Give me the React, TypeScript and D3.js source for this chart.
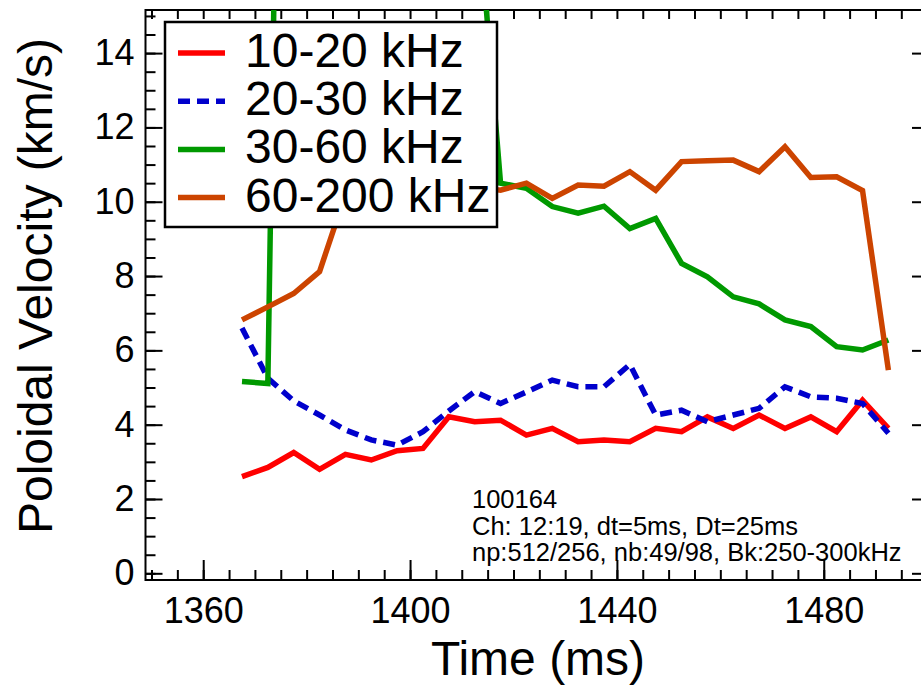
import { useRef, useEffect } from "react";
import * as d3 from "d3";

// time points (ms), one every 5 ms
const times = [
  1367.5, 1372.5, 1377.5, 1382.5, 1387.5, 1392.5, 1397.5, 1402.5, 1407.5, 1412.5,
  1417.5, 1422.5, 1427.5, 1432.5, 1437.5, 1442.5, 1447.5, 1452.5, 1457.5, 1462.5,
  1467.5, 1472.5, 1477.5, 1482.5, 1487.5, 1492.5,
];

// poloidal velocity (km/s) per frequency band
const band10to20 = [
  2.6, 2.85, 3.25, 2.8, 3.2, 3.05, 3.3, 3.36, 4.21, 4.08, 4.12, 3.72, 3.9, 3.54,
  3.59, 3.54, 3.9, 3.81, 4.21, 3.9, 4.26, 3.9, 4.21, 3.81, 4.66, 3.9,
];
const band20to30 = [
  6.6, 5.25, 4.64, 4.26, 3.86, 3.59, 3.45, 3.81, 4.37, 4.89, 4.57, 4.88, 5.2, 5.02,
  5.02, 5.62, 4.26, 4.39, 4.08, 4.26, 4.44, 5.02, 4.75, 4.71, 4.57, 3.77,
];
// points 2..9 run off the top of the plot
const band30to60 = [
  5.16, 5.11, 49, 38, 30, 42, 27, 33, 24, 19, 10.5, 10.36, 9.87, 9.69, 9.88, 9.28,
  9.55, 8.34, 7.98, 7.44, 7.25, 6.82, 6.64, 6.1, 6.01, 6.28,
];
const band60to200 = [
  6.82, 7.17, 7.53, 8.12, 10.2, 10.4, 10.3, 10.6, 10.5, 10.4, 10.31, 10.5, 10.09,
  10.45, 10.42, 10.81, 10.31, 11.08, 11.1, 11.12, 10.81, 11.48, 10.65, 10.67, 10.3,
  5.47,
];

const seriesNames = ["10-20 kHz", "20-30 kHz", "30-60 kHz", "60-200 kHz"];
const seriesValues = [band10to20, band20to30, band30to60, band60to200];
const seriesColors = ["#ff0000", "#0000cc", "#009900", "#cc4400"];
const seriesDash = [null, "12 7", null, null];

const xMajorTicks = [1360, 1400, 1440, 1480];
const yMajorTicks = [0, 2, 4, 6, 8, 10, 12, 14];

const infoLines = [
  "100164",
  "Ch: 12:19, dt=5ms, Dt=25ms",
  "np:512/256, nb:49/98, Bk:250-300kHz",
];

const FONT = "'Liberation Sans', Arial, Helvetica, sans-serif";

export default function App() {
  const ref = useRef(null);
  const width = 921;
  const height = 688;
  const left = 145.5;
  const right = 922;
  const top = 10;
  const bottom = 580;

  useEffect(() => {
    const svg = d3.select(ref.current);
    svg.selectAll("*").remove();

    const x = d3.scaleLinear().domain([1348.84, 1499]).range([left, right]);
    const y = d3.scaleLinear().domain([-0.18, 15.16]).range([bottom, top]);

    const xMinor = d3.range(1350, 1499, 5);
    const yMinor = d3.range(0, 15.01, 0.5);

    svg.append("clipPath").attr("id", "plot-clip")
      .append("rect")
      .attr("x", left).attr("y", top)
      .attr("width", right - left).attr("height", bottom - top);

    const styleAxis = (g) => {
      g.select(".domain").remove();
      g.selectAll("line").attr("stroke", "#000").attr("stroke-width", 2);
      g.selectAll("text")
        .attr("fill", "#000")
        .style("font-family", FONT)
        .style("font-size", "36px");
    };

    // bottom axis
    svg.append("g")
      .attr("transform", `translate(0,${bottom})`)
      .call(d3.axisBottom(x).tickValues(xMinor).tickSize(-10).tickFormat(() => ""))
      .call(styleAxis);
    svg.append("g")
      .attr("transform", `translate(0,${bottom})`)
      .call(d3.axisBottom(x).tickValues(xMajorTicks).tickSize(-20).tickPadding(17).tickFormat(d3.format("d")))
      .call(styleAxis);

    // top axis
    svg.append("g")
      .attr("transform", `translate(0,${top})`)
      .call(d3.axisTop(x).tickValues(xMinor).tickSize(-9).tickFormat(() => ""))
      .call(styleAxis);

    // left axis
    svg.append("g")
      .attr("transform", `translate(${left},0)`)
      .call(d3.axisLeft(y).tickValues(yMinor).tickSize(-10).tickFormat(() => ""))
      .call(styleAxis);
    svg.append("g")
      .attr("transform", `translate(${left},0)`)
      .call(d3.axisLeft(y).tickValues(yMajorTicks).tickSize(-17).tickPadding(11).tickFormat(d3.format("d")))
      .call(styleAxis);

    // right axis (line itself falls just off the page)
    svg.append("g")
      .attr("transform", `translate(${right},0)`)
      .call(d3.axisRight(y).tickValues(yMajorTicks).tickSize(-10).tickFormat(() => ""))
      .call(styleAxis);

    // frame
    const frame = svg.append("g").attr("stroke", "#000").attr("stroke-width", 2);
    frame.append("line").attr("x1", left).attr("x2", right).attr("y1", bottom).attr("y2", bottom);
    frame.append("line").attr("x1", left).attr("x2", right).attr("y1", top).attr("y2", top);
    frame.append("line").attr("x1", left).attr("x2", left).attr("y1", top - 1).attr("y2", bottom + 1);
    frame.append("line").attr("x1", right).attr("x2", right).attr("y1", top).attr("y2", bottom);

    // data lines
    const line = d3.line()
      .x((d, i) => x(times[i]))
      .y((d) => y(d));

    svg.append("g")
      .attr("clip-path", "url(#plot-clip)")
      .selectAll(".series")
      .data(seriesValues)
      .join("path")
      .attr("class", "series")
      .attr("d", (d) => line(d))
      .attr("fill", "none")
      .attr("stroke", (d, i) => seriesColors[i])
      .attr("stroke-width", 5.5)
      .attr("stroke-dasharray", (d, i) => seriesDash[i]);

    // legend
    const legend = svg.append("g");
    legend.append("rect")
      .attr("x", 165).attr("y", 22).attr("width", 332).attr("height", 205)
      .attr("fill", "#fff").attr("stroke", "#000").attr("stroke-width", 2.5);
    seriesNames.forEach((name, i) => {
      const ly = 53 + i * 48.2;
      legend.append("line")
        .attr("x1", 178).attr("x2", 225).attr("y1", ly).attr("y2", ly)
        .attr("stroke", seriesColors[i]).attr("stroke-width", 5.5)
        .attr("stroke-dasharray", seriesDash[i]);
      legend.append("text")
        .attr("x", 245).attr("y", ly + 14)
        .style("font-family", FONT).style("font-size", "48px")
        .text(name);
    });

    // run info
    svg.append("g")
      .selectAll("text")
      .data(infoLines)
      .join("text")
      .attr("x", 472)
      .attr("y", (d, i) => 508 + i * 26.5)
      .style("font-family", FONT)
      .style("font-size", "25.5px")
      .text((d) => d);

    // axis titles
    svg.append("text")
      .attr("x", 538).attr("y", 675)
      .attr("text-anchor", "middle")
      .style("font-family", FONT).style("font-size", "48px")
      .text("Time (ms)");
    svg.append("text")
      .attr("transform", "translate(52,286) rotate(-90)")
      .attr("text-anchor", "middle")
      .style("font-family", FONT).style("font-size", "48px")
      .text("Poloidal Velocity (km/s)");
  }, []);

  return (
    <svg
      ref={ref}
      width={width}
      height={height}
      style={{ position: "absolute", left: 0, top: 0, background: "white" }}
    />
  );
}
